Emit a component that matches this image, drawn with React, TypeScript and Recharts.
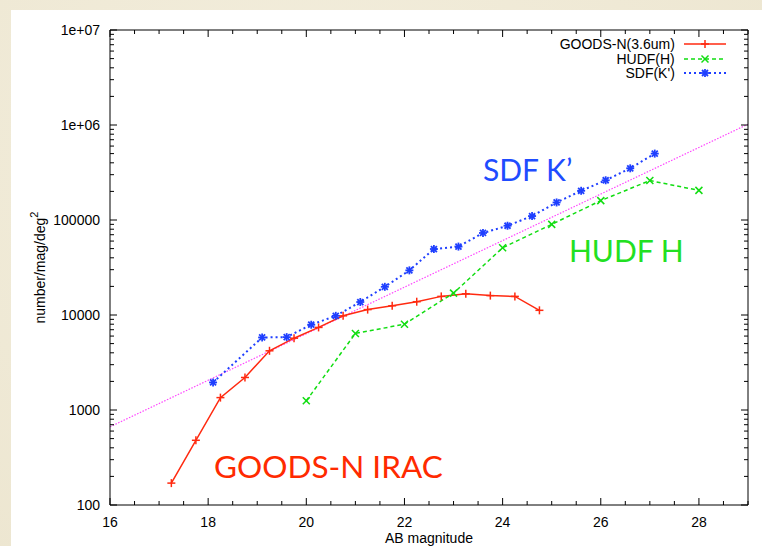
import { LineChart, Line, XAxis, YAxis, ReferenceDot } from "recharts";

// number counts, AB magnitude vs number/mag/deg^2
const goodsMag = [17.25, 17.75, 18.25, 18.75, 19.25, 19.75, 20.25, 20.75, 21.25, 21.75, 22.25, 22.75, 23.25, 23.75, 24.25, 24.75];
const goodsCounts = [170, 480, 1350, 2200, 4200, 5700, 7400, 9800, 11400, 12500, 13800, 15700, 16700, 16000, 15700, 11200];

const hudfMag = [20, 21, 22, 23, 24, 25, 26, 27, 28];
const hudfCounts = [1250, 6400, 8000, 17000, 51000, 90000, 160000, 260000, 205000];

const sdfMag = [18.1, 19.1, 19.6, 20.1, 20.6, 21.1, 21.6, 22.1, 22.6, 23.1, 23.6, 24.1, 24.6, 25.1, 25.6, 26.1, 26.6, 27.1];
const sdfCounts = [1950, 5800, 5850, 7900, 9800, 13700, 19800, 29500, 49500, 52500, 73000, 87000, 110000, 153000, 203000, 262000, 350000, 500000];

// power-law slope guide
const slopeMag = [16, 29];
const slopeCounts = [665, 1020000];

const xMajorTicks = [16, 18, 20, 22, 24, 26, 28];
const yMajorTicks = [100, 1000, 10000, 100000, 1000000, 10000000];
const yTickLabels = ["100", "1000", "10000", "100000", "1e+06", "1e+07"];

const annotationText = ["SDF K’", "HUDF H", "GOODS-N IRAC"];
const annotationMag = [24.51, 26.52, 20.45];
const annotationCount = [335000, 47000, 251];
const annotationSize = [30, 30, 31.5];
const annotationColor = ["#1f4cff", "#22e022", "#ff2a00"];

const legendNames = ["GOODS-N(3.6um)", "HUDF(H)", "SDF(K')"];

const RED = "#ff2a10";
const GREEN = "#11dd11";
const BLUE = "#1f3fff";
const MAGENTA = "#ff44ff";

const toPoints = (xs: number[], ys: number[]) => xs.map((x, i) => ({ x, y: ys[i] }));

const goodsData = toPoints(goodsMag, goodsCounts);
const hudfData = toPoints(hudfMag, hudfCounts);
const sdfData = toPoints(sdfMag, sdfCounts);
const slopeData = toPoints(slopeMag, slopeCounts);

const xTicks: number[] = [];
for (let v = 16; v <= 29; v += 0.5) xTicks.push(v);

const yTicks: number[] = [];
yMajorTicks.forEach((d, i) => {
  if (i === yMajorTicks.length - 1) {
    yTicks.push(d);
    return;
  }
  for (let k = 1; k <= 9; k++) yTicks.push(k * d);
});

const tickFont = '"Liberation Sans", Arial, sans-serif';
const annotFont = 'Lato, "Open Sans", sans-serif';

const BottomTick = (props: any) => {
  const { x, y, payload } = props;
  const major = xMajorTicks.includes(payload.value);
  return (
    <g>
      <line x1={x} x2={x} y1={y} y2={y - (major ? 7 : 4)} stroke="#000" />
      {major && (
        <text x={x} y={y + 22} textAnchor="middle" fontSize={14} fontFamily={tickFont} fill="#000">
          {payload.value}
        </text>
      )}
    </g>
  );
};

const TopTick = (props: any) => {
  const { x, y, payload } = props;
  const major = xMajorTicks.includes(payload.value);
  return <line x1={x} x2={x} y1={y} y2={y + (major ? 7 : 4)} stroke="#000" />;
};

const LeftTick = (props: any) => {
  const { x, y, payload } = props;
  const idx = yMajorTicks.indexOf(payload.value);
  const major = idx >= 0;
  return (
    <g>
      <line x1={x} x2={x + (major ? 7 : 4)} y1={y} y2={y} stroke="#000" />
      {major && (
        <text x={x - 10} y={y + 5} textAnchor="end" fontSize={14} fontFamily={tickFont} fill="#000">
          {yTickLabels[idx]}
        </text>
      )}
    </g>
  );
};

const RightTick = (props: any) => {
  const { x, y, payload } = props;
  const major = yMajorTicks.includes(payload.value);
  return <line x1={x} x2={x - (major ? 7 : 4)} y1={y} y2={y} stroke="#000" />;
};

const PlusDot = (props: any) => {
  const { cx, cy, index } = props;
  return (
    <g key={`p${index}`} stroke={RED} strokeWidth={1.5}>
      <line x1={cx - 4} x2={cx + 4} y1={cy} y2={cy} />
      <line x1={cx} x2={cx} y1={cy - 4} y2={cy + 4} />
    </g>
  );
};

const CrossDot = (props: any) => {
  const { cx, cy, index } = props;
  return (
    <g key={`c${index}`} stroke={GREEN} strokeWidth={1.5}>
      <line x1={cx - 3.5} x2={cx + 3.5} y1={cy - 3.5} y2={cy + 3.5} />
      <line x1={cx - 3.5} x2={cx + 3.5} y1={cy + 3.5} y2={cy - 3.5} />
    </g>
  );
};

const StarDot = (props: any) => {
  const { cx, cy, index } = props;
  return (
    <g key={`s${index}`} stroke={BLUE} strokeWidth={1.8}>
      <line x1={cx - 4} x2={cx + 4} y1={cy} y2={cy} />
      <line x1={cx} x2={cx} y1={cy - 4} y2={cy + 4} />
      <line x1={cx - 3} x2={cx + 3} y1={cy - 3} y2={cy + 3} />
      <line x1={cx - 3} x2={cx + 3} y1={cy + 3} y2={cy - 3} />
    </g>
  );
};

const legendStyles = [
  { color: RED, dash: undefined, Mark: PlusDot },
  { color: GREEN, dash: "4 3", Mark: CrossDot },
  { color: BLUE, dash: "2 3", Mark: StarDot },
];

export default function App() {
  return (
    <div
      style={{
        position: "absolute",
        left: 0,
        top: 0,
        width: 762,
        height: 546,
        overflow: "hidden",
        background: "radial-gradient(ellipse at 40% 30%, #f3eedd 0%, #ece5cf 100%)",
      }}
    >
      <div style={{ position: "absolute", left: 11, top: 10, right: 0, bottom: 0, background: "#fff" }} />

      <div style={{ position: "absolute", left: 0, top: 0 }}>
        <LineChart width={762} height={546} margin={{ top: 0, right: 0, bottom: 0, left: 0 }}>
          <XAxis
            xAxisId="bottom"
            dataKey="x"
            type="number"
            domain={[16, 29]}
            ticks={xTicks}
            interval={0}
            height={41}
            tickSize={0}
            tickMargin={0}
            tickLine={false}
            tick={<BottomTick />}
            axisLine={{ stroke: "#000" }}
            allowDataOverflow
            label={{
              content: (p: any) => {
                const vb = p.viewBox;
                return (
                  <text x={vb.x + vb.width / 2} y={vb.y + 37.5} textAnchor="middle" fontSize={14} fontFamily={tickFont} fill="#000">
                    AB magnitude
                  </text>
                );
              },
            }}
          />
          <XAxis
            xAxisId="top"
            orientation="top"
            dataKey="x"
            type="number"
            domain={[16, 29]}
            ticks={xTicks}
            interval={0}
            height={30}
            tickSize={0}
            tickMargin={0}
            tickLine={false}
            tick={<TopTick />}
            axisLine={{ stroke: "#000" }}
            allowDataOverflow
          />
          <YAxis
            yAxisId="left"
            type="number"
            scale="log"
            domain={[100, 10000000]}
            ticks={yTicks}
            interval={0}
            width={110}
            tickSize={0}
            tickMargin={0}
            tickLine={false}
            tick={<LeftTick />}
            axisLine={{ stroke: "#000" }}
            allowDataOverflow
            label={{
              content: (p: any) => {
                const vb = p.viewBox;
                const cy = vb.y + vb.height / 2;
                return (
                  <text
                    x={40}
                    y={cy}
                    transform={`rotate(-90 40 ${cy})`}
                    textAnchor="middle"
                    dominantBaseline="central"
                    fontSize={14}
                    fontFamily={tickFont}
                    fill="#000"
                  >
                    number/mag/deg
                    <tspan dy={-6} fontSize={11}>2</tspan>
                  </text>
                );
              },
            }}
          />
          <YAxis
            yAxisId="right"
            orientation="right"
            type="number"
            scale="log"
            domain={[100, 10000000]}
            ticks={yTicks}
            interval={0}
            width={14}
            tickSize={0}
            tickMargin={0}
            tickLine={false}
            tick={<RightTick />}
            axisLine={{ stroke: "#000" }}
            allowDataOverflow
          />

          <Line
            xAxisId="top"
            yAxisId="right"
            data={slopeData}
            dataKey="y"
            stroke={MAGENTA}
            strokeWidth={1.2}
            strokeDasharray="1.5 1.5"
            dot={false}
            isAnimationActive={false}
          />
          <Line
            xAxisId="bottom"
            yAxisId="left"
            data={goodsData}
            dataKey="y"
            stroke={RED}
            strokeWidth={1.5}
            dot={PlusDot}
            isAnimationActive={false}
          />
          <Line
            xAxisId="bottom"
            yAxisId="left"
            data={hudfData}
            dataKey="y"
            stroke={GREEN}
            strokeWidth={1.5}
            strokeDasharray="4 3"
            dot={CrossDot}
            isAnimationActive={false}
          />
          <Line
            xAxisId="bottom"
            yAxisId="left"
            data={sdfData}
            dataKey="y"
            stroke={BLUE}
            strokeWidth={2}
            strokeDasharray="2 3"
            dot={StarDot}
            isAnimationActive={false}
          />

          {annotationText.map((t, i) => (
            <ReferenceDot
              key={t}
              xAxisId="bottom"
              yAxisId="left"
              x={annotationMag[i]}
              y={annotationCount[i]}
              r={0}
              shape={(p: any) => (
                <text
                  x={p.cx}
                  y={p.cy + 11}
                  textAnchor="middle"
                  fontSize={annotationSize[i]}
                  fontFamily={annotFont}
                  fill={annotationColor[i]}
                >
                  {t}
                </text>
              )}
            />
          ))}
        </LineChart>
      </div>

      {/* key, top right inside the frame */}
      <div style={{ position: "absolute", left: 478, top: 37, width: 255 }}>
        {legendNames.map((name, i) => {
          const s = legendStyles[i];
          const Mark = s.Mark;
          return (
            <div key={name} style={{ display: "flex", alignItems: "center", height: 14.5 }}>
              <span
                style={{
                  width: 200,
                  textAlign: "right",
                  fontFamily: tickFont,
                  fontSize: 14,
                  lineHeight: "14.5px",
                  color: "#000",
                }}
              >
                {name}
              </span>
              <svg width={50} height={14} style={{ marginLeft: 9 }}>
                <line x1={0} x2={42} y1={7} y2={7} stroke={s.color} strokeWidth={s.dash === "2 3" ? 2 : 1.5} strokeDasharray={s.dash} />
                <Mark cx={21} cy={7} index={0} />
              </svg>
            </div>
          );
        })}
      </div>
    </div>
  );
}
